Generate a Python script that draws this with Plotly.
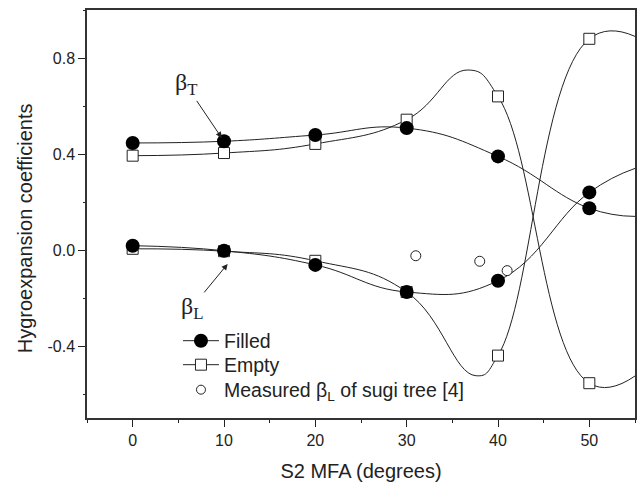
import plotly.graph_objects as go

# ---- data ----
mfa = [0, 10, 20, 30, 40, 50]

filled_bt = [0.446, 0.453, 0.479, 0.508, 0.390, 0.174]
filled_bl = [0.018, -0.003, -0.062, -0.175, -0.128, 0.240]
empty_bt = [0.393, 0.404, 0.442, 0.543, 0.640, -0.555]
empty_bl = [0.005, -0.005, -0.045, -0.175, -0.440, 0.880]

# fitted curves (as drawn): marker points plus turning points / right-frame ends
filled_bt_curve_x = [0, 10, 20, 30, 40, 50, 55]
filled_bt_curve_y = [0.446, 0.453, 0.479, 0.508, 0.390, 0.174, 0.14]
filled_bl_curve_x = [0, 10, 20, 30, 40, 50, 55]
filled_bl_curve_y = [0.018, -0.003, -0.062, -0.175, -0.128, 0.240, 0.34]
empty_bt_curve_x = [0, 10, 20, 30, 36.7, 40, 50, 55]
empty_bt_curve_y = [0.393, 0.404, 0.442, 0.543, 0.75, 0.640, -0.555, -0.525]
empty_bl_curve_x = [0, 10, 20, 30, 37.6, 40, 50, 55]
empty_bl_curve_y = [0.005, -0.005, -0.045, -0.175, -0.524, -0.440, 0.880, 0.89]

meas_x = [31.0, 38.0, 41.0]
meas_bl = [-0.024, -0.047, -0.086]

x_ticks = [0, 10, 20, 30, 40, 50]
y_ticks = [-0.4, 0.0, 0.4, 0.8]
y_tick_text = ["-0.4", "0.0", "0.4", "0.8"]

FONT = "Liberation Sans, Arial, sans-serif"
SERIF = "Liberation Serif, Times New Roman, serif"
INK = "#222222"

fig = go.Figure()

for cx, cy in [(empty_bt_curve_x, empty_bt_curve_y),
               (empty_bl_curve_x, empty_bl_curve_y),
               (filled_bt_curve_x, filled_bt_curve_y),
               (filled_bl_curve_x, filled_bl_curve_y)]:
    fig.add_trace(go.Scatter(
        x=cx, y=cy, mode="lines",
        line=dict(color=INK, width=1, shape="spline", smoothing=1.3),
        showlegend=False, hoverinfo="skip"))

# markers: empty squares
for ys in [empty_bt, empty_bl]:
    fig.add_trace(go.Scatter(
        x=mfa, y=ys, mode="markers",
        marker=dict(symbol="square", size=11, color="white",
                    line=dict(color=INK, width=1)),
        showlegend=False))
# filled circles
for ys in [filled_bt, filled_bl]:
    fig.add_trace(go.Scatter(
        x=mfa, y=ys, mode="markers",
        marker=dict(symbol="circle", size=14, color="black",
                    line=dict(color="black", width=0)),
        showlegend=False))
# measured
fig.add_trace(go.Scatter(
    x=meas_x, y=meas_bl, mode="markers",
    marker=dict(symbol="circle", size=10, color="white",
                line=dict(color=INK, width=1)),
    showlegend=False))

# legend entries (each in its own legend so rows can be spaced like the reference)
fig.add_trace(go.Scatter(
    x=[None], y=[None], mode="lines+markers", name="Filled",
    line=dict(color=INK, width=1), legend="legend",
    marker=dict(symbol="circle", size=14, color="black")))
fig.add_trace(go.Scatter(
    x=[None], y=[None], mode="lines+markers", name="Empty",
    line=dict(color=INK, width=1), legend="legend2",
    marker=dict(symbol="square", size=11, color="white",
                line=dict(color=INK, width=1))))
fig.add_trace(go.Scatter(
    x=[None], y=[None], mode="markers", legend="legend3",
    name="Measured \u03b2<sub>L</sub> of sugi tree [4]",
    marker=dict(symbol="circle", size=9, color="white",
                line=dict(color=INK, width=1))))

annots = [
    dict(x=9.75, y=0.467, ax=5.8, ay=0.69, axref="x", ayref="y",
         text="\u03b2<sub>T</sub>", showarrow=True, arrowhead=2,
         arrowsize=1.2, arrowwidth=1, arrowcolor=INK,
         font=dict(family=SERIF, size=24, color=INK)),
    dict(x=10.4, y=-0.058, ax=6.46, ay=-0.24, axref="x", ayref="y",
         text="\u03b2<sub>L</sub>", showarrow=True, arrowhead=2,
         arrowsize=1.2, arrowwidth=1, arrowcolor=INK,
         font=dict(family=SERIF, size=24, color=INK)),
    dict(text="Hygroexpansion coefficients", textangle=-90,
         xref="paper", yref="paper", x=-0.1127, y=0.4657,
         xanchor="center", yanchor="middle", showarrow=False,
         font=dict(family=FONT, size=20, color=INK)),
]

leg_common = dict(xanchor="left", yanchor="top", bgcolor="rgba(0,0,0,0)",
                  font=dict(size=19.5, color=INK), itemwidth=36)

fig.update_layout(
    width=638, height=482,
    margin=dict(l=87, r=1, t=10, b=64),
    paper_bgcolor="white", plot_bgcolor="white",
    font=dict(family=FONT, color=INK, size=16),
    showlegend=True,
    legend=dict(x=0.166, y=0.2365, **leg_common),
    legend2=dict(x=0.166, y=0.1777, **leg_common),
    legend3=dict(x=0.166, y=0.1164, **leg_common),
    annotations=annots,
    xaxis=dict(range=[-5, 55], tickvals=x_ticks, ticks="outside",
               ticklen=7, tickwidth=1.2, tickcolor=INK,
               showline=True, linecolor="#333333", linewidth=1.5,
               mirror=True, showgrid=False, zeroline=False,
               tickfont=dict(size=16),
               minor=dict(dtick=5, ticks="outside", ticklen=3,
                          tickcolor=INK, tickwidth=1),
               title=dict(text="S2 MFA (degrees)", font=dict(size=20),
                          standoff=17)),
    yaxis=dict(range=[-0.7, 1.0], tickvals=y_ticks, ticktext=y_tick_text,
               ticks="outside", ticklen=7, tickwidth=1.2, tickcolor=INK,
               showline=True, linecolor="#333333", linewidth=1.5,
               mirror=True, showgrid=False, zeroline=False,
               tickfont=dict(size=16),
               minor=dict(dtick=0.2, tick0=0, ticks="outside", ticklen=2,
                          tickcolor=INK, tickwidth=1)),
)

fig.write_html("out.html")
